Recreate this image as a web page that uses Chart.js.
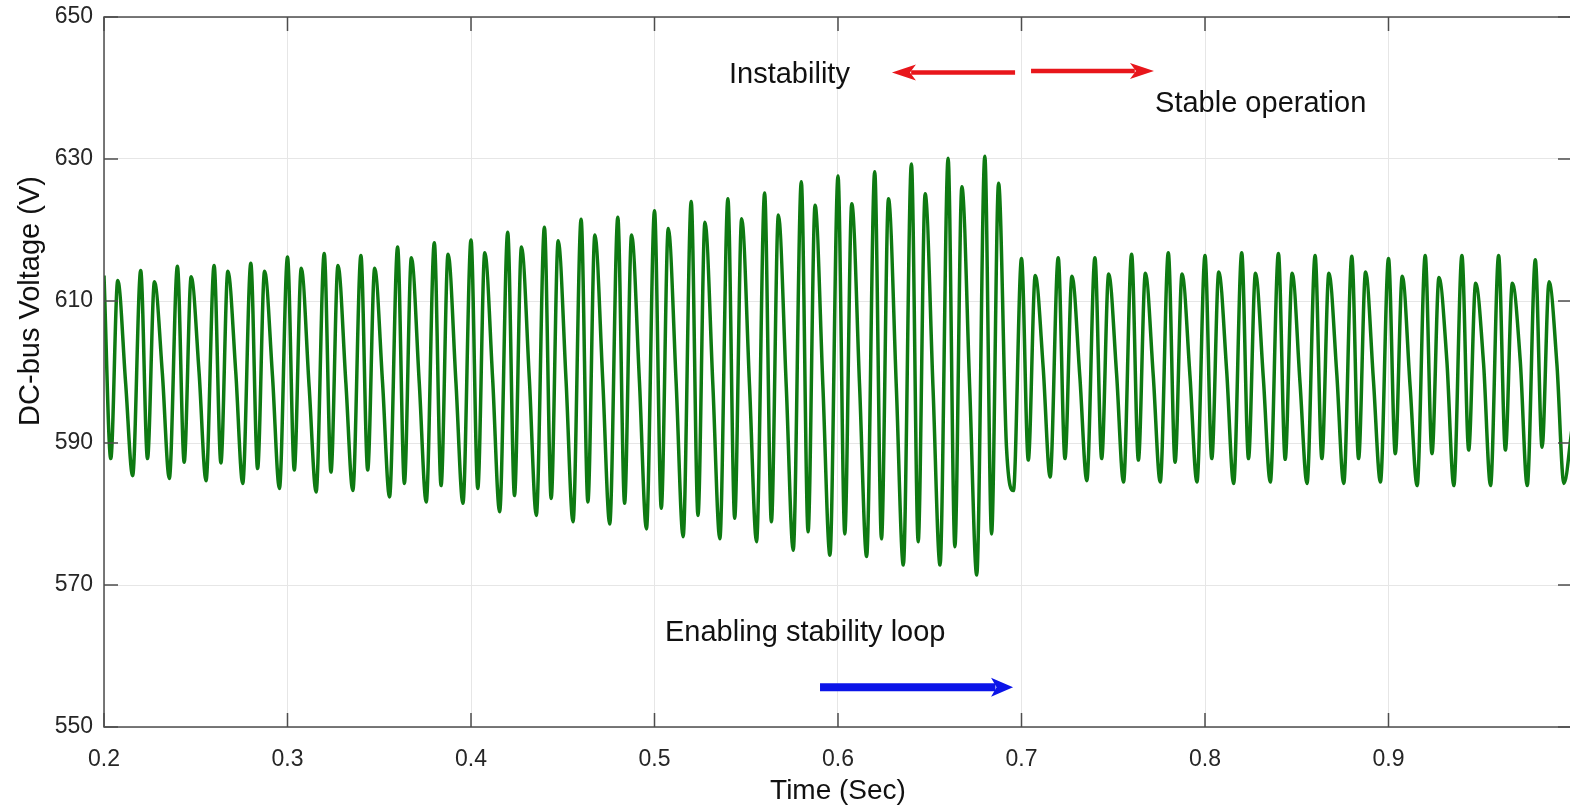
<!DOCTYPE html>
<html>
<head>
<meta charset="utf-8">
<script src="https://cdn.jsdelivr.net/npm/chart.js@4.4.0/dist/chart.umd.min.js"></script>
<style>
  html, body { margin: 0; padding: 0; background: #fff; overflow: hidden; }
  #wrap { width: 1574px; height: 808px; }
</style>
</head>
<body>
<div id="wrap"><canvas id="chart" width="1574" height="808"></canvas></div>
<script>
// time of each main peak (one cycle = 20 ms)
const cycleTimes = [0.20, 0.22, 0.24, 0.26, 0.28, 0.30, 0.32, 0.34, 0.36, 0.38,
                    0.40, 0.42, 0.44, 0.46, 0.48, 0.50, 0.52, 0.54, 0.56, 0.58,
                    0.60, 0.62, 0.64, 0.66, 0.68, 0.70, 0.72, 0.74, 0.76, 0.78,
                    0.80, 0.82, 0.84, 0.86, 0.88, 0.90, 0.92, 0.94, 0.96, 0.98];
// where the features of a cycle sit, relative to its main peak (s)
const featureOffsets = [0, 0.0037, 0.0075, 0.0118, 0.0156];

// voltage at each feature (V)
const peakV = [613.6, 614.3, 614.9, 615.0, 615.3, 616.2, 616.7, 616.4, 617.6, 618.2,
               618.6, 619.7, 620.4, 621.5, 621.8, 622.7, 624.0, 624.4, 625.2, 626.8,
               627.6, 628.2, 629.3, 630.1, 630.4, 616.0, 616.1, 616.1, 616.6, 616.8,
               616.4, 616.8, 616.7, 616.4, 616.3, 616.0, 616.4, 616.4, 616.4, 615.8];
const trough1V = [587.8, 587.8, 587.3, 587.2, 586.4, 586.2, 585.9, 586.2, 584.3, 584.0,
                  583.6, 582.6, 582.2, 581.7, 581.5, 580.8, 579.8, 579.4, 578.9, 577.5,
                  577.2, 576.5, 576.1, 575.4, 577.2, 587.6, 587.8, 587.8, 587.6, 587.3,
                  587.8, 587.8, 587.7, 587.8, 587.8, 588.5, 588.5, 589.0, 589.0, 589.4];
const peak2V = [612.9, 612.7, 613.4, 614.2, 614.2, 614.6, 615.0, 614.6, 616.1, 616.6,
                616.8, 617.6, 618.5, 619.3, 619.3, 620.2, 621.1, 621.6, 622.1, 623.5,
                623.7, 624.4, 625.1, 626.1, 626.6, 613.6, 613.5, 613.8, 613.9, 613.8,
                614.1, 613.9, 613.9, 613.9, 614.1, 613.5, 613.3, 612.5, 612.5, 612.7];
const shoulderV = [598.4, 599.8, 600.0, 600.0, 599.5, 597.9, 598.5, 598.5, 598.5, 598.5,
                   599.0, 599.0, 598.8, 598.8, 598.6, 598.5, 598.2, 598.0, 598.0, 597.8,
                   597.8, 597.8, 597.6, 597.6, 589.5, 600.7, 599.3, 599.8, 599.5, 599.5,
                   600.2, 599.1, 598.4, 599.8, 598.8, 597.9, 601.6, 601.2, 601.6, 601.0];
const trough2V = [585.4, 585.0, 584.7, 584.3, 583.6, 583.1, 583.3, 582.4, 581.7, 581.5,
                  580.3, 579.8, 578.9, 578.6, 577.9, 576.8, 576.5, 576.1, 574.9, 574.2,
                  574.0, 572.8, 572.8, 571.4, 583.3, 585.2, 584.7, 584.5, 584.5, 584.5,
                  584.3, 584.5, 584.3, 584.3, 584.5, 584.0, 584.0, 584.0, 584.0, 584.3];
const endTime = 1.0;
const endV = 592.0;

const xTickLabels = ['0.2', '0.3', '0.4', '0.5', '0.6', '0.7', '0.8', '0.9', ''];
const yTickLabels = ['550', '570', '590', '610', '630', '650'];

// build the trace
const points = [];
cycleTimes.forEach((t0, i) => {
  const vals = [peakV[i], trough1V[i], peak2V[i], shoulderV[i], trough2V[i]];
  featureOffsets.forEach((dt, j) => {
    points.push({ x: +(t0 + dt).toFixed(4), y: vals[j] });
  });
});
points.push({ x: endTime, y: endV });

const FONT = '"Liberation Sans", Arial, sans-serif';

// annotations in data units
const notes = [
  { text: 'Instability', x: 0.5406, y: 641.9 },
  { text: 'Stable operation', x: 0.7728, y: 637.8 },
  { text: 'Enabling stability loop', x: 0.5057, y: 563.2 },
];
const arrows = [
  { from: [0.6965, 642.2], to: [0.6294, 642.2], color: '#e8161b', width: 4.5, head: 24, half: 8 },
  { from: [0.7052, 642.4], to: [0.7722, 642.4], color: '#e8161b', width: 4.5, head: 24, half: 8 },
  { from: [0.5902, 555.6], to: [0.6954, 555.6], color: '#0b14e8', width: 8, head: 22, half: 9.5 },
];

const frameAndTicks = {
  id: 'frameAndTicks',
  afterDraw(chart) {
    const { ctx, chartArea: a, scales } = chart;
    const len = 14;
    ctx.save();
    ctx.strokeStyle = '#4d4d4d';
    ctx.lineWidth = 1.5;
    ctx.beginPath();
    scales.x.ticks.forEach(t => {
      const px = scales.x.getPixelForValue(t.value);
      ctx.moveTo(px, a.bottom); ctx.lineTo(px, a.bottom - len);
      ctx.moveTo(px, a.top); ctx.lineTo(px, a.top + len);
    });
    scales.y.ticks.forEach(t => {
      const py = scales.y.getPixelForValue(t.value);
      ctx.moveTo(a.left, py); ctx.lineTo(a.left + len, py);
      ctx.moveTo(a.right, py); ctx.lineTo(a.right - len, py);
    });
    ctx.stroke();
    ctx.strokeRect(a.left, a.top, a.right - a.left, a.bottom - a.top);

    // y axis title
    ctx.fillStyle = '#111';
    ctx.font = '29px ' + FONT;
    ctx.textAlign = 'center';
    ctx.textBaseline = 'middle';
    ctx.save();
    ctx.translate(31, a.top + (a.bottom - a.top) * 0.4);
    ctx.rotate(-Math.PI / 2);
    ctx.fillText('DC-bus Voltage (V)', 0, 0);
    ctx.restore();

    // text notes
    ctx.textAlign = 'left';
    notes.forEach(n => {
      ctx.fillText(n.text, scales.x.getPixelForValue(n.x), scales.y.getPixelForValue(n.y));
    });

    // arrows
    arrows.forEach(ar => {
      const x0 = scales.x.getPixelForValue(ar.from[0]);
      const y0 = scales.y.getPixelForValue(ar.from[1]);
      const x1 = scales.x.getPixelForValue(ar.to[0]);
      const y1 = scales.y.getPixelForValue(ar.to[1]);
      const dir = Math.sign(x1 - x0);
      ctx.strokeStyle = ar.color;
      ctx.fillStyle = ar.color;
      ctx.lineWidth = ar.width;
      ctx.beginPath();
      ctx.moveTo(x0, y0);
      ctx.lineTo(x1 - dir * ar.head * 0.8, y1);
      ctx.stroke();
      ctx.beginPath();
      ctx.moveTo(x1, y1);
      ctx.lineTo(x1 - dir * ar.head, y1 - ar.half);
      ctx.lineTo(x1 - dir * ar.head * 0.75, y1);
      ctx.lineTo(x1 - dir * ar.head, y1 + ar.half);
      ctx.closePath();
      ctx.fill();
    });
    ctx.restore();
  }
};

new Chart(document.getElementById('chart'), {
  type: 'line',
  data: {
    datasets: [{
      data: points,
      borderColor: '#0e7a12',
      borderWidth: 3.5,
      pointRadius: 0,
      fill: false,
      cubicInterpolationMode: 'monotone',
    }],
  },
  options: {
    responsive: false,
    animation: false,
    parsing: false,
    layout: { padding: { top: 17, right: 2, left: 0, bottom: 0 } },
    plugins: { legend: { display: false }, tooltip: { enabled: false } },
    scales: {
      x: {
        type: 'linear',
        min: 0.2,
        max: 1.0,
        grid: { color: '#e6e6e6', lineWidth: 1, drawTicks: false },
        border: { display: false },
        ticks: {
          stepSize: 0.1,
          padding: 19,
          color: '#262626',
          font: { family: FONT, size: 23 },
          maxRotation: 0,
          callback: (v) => xTickLabels[Math.round((v - 0.2) * 10)],
        },
        title: {
          display: true,
          text: 'Time (Sec)',
          color: '#111',
          font: { family: FONT, size: 28 },
          padding: { top: 2, bottom: 0 },
        },
        afterFit: (s) => { s.height = 81; s.paddingLeft = 0; s.paddingRight = 0; },
      },
      y: {
        min: 550,
        max: 650,
        grid: { color: '#e6e6e6', lineWidth: 1, drawTicks: false },
        border: { display: false },
        ticks: {
          stepSize: 20,
          padding: 11,
          color: '#262626',
          font: { family: FONT, size: 23 },
          callback: (v) => yTickLabels[Math.round((v - 550) / 20)],
        },
        afterFit: (s) => { s.width = 104; s.paddingTop = 0; s.paddingBottom = 0; },
      },
    },
  },
  plugins: [frameAndTicks],
});
</script>
</body>
</html>
